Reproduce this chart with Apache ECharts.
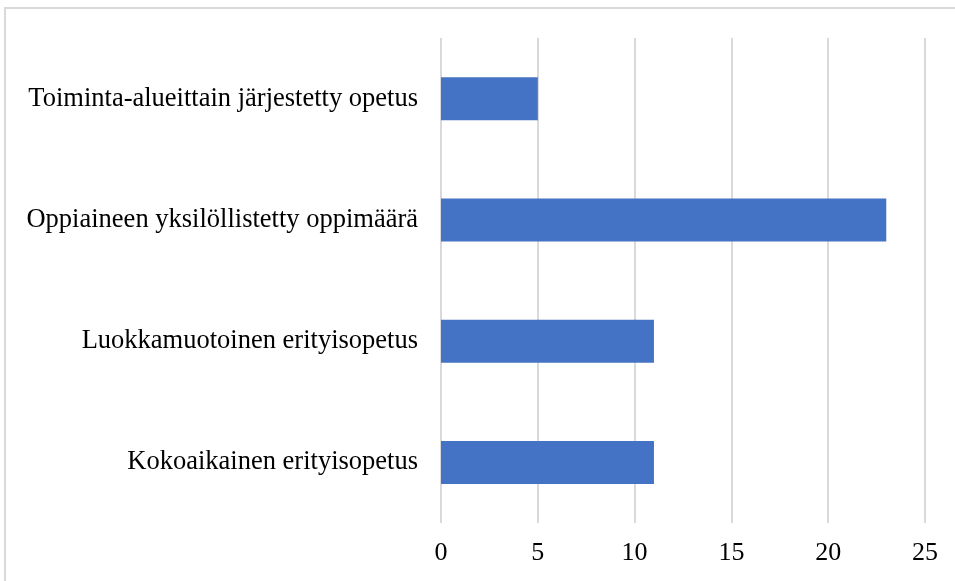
<!DOCTYPE html>
<html>
<head>
<meta charset="utf-8">
<script src="https://cdn.jsdelivr.net/npm/echarts@6/dist/echarts.min.js"></script>
<style>
  html, body { margin: 0; padding: 0; background: #fff; }
  #main { width: 955px; height: 581px; }
</style>
</head>
<body>
<div id="main"></div>
<script>
  // categories listed bottom to top
  const categories = [
    'Kokoaikainen erityisopetus',
    'Luokkamuotoinen erityisopetus',
    'Oppiaineen yksilöllistetty oppimäärä',
    'Toiminta-alueittain järjestetty opetus'
  ];
  const values = [11, 11, 23, 5];
  const xTicks = { min: 0, max: 25, interval: 5 };

  const chart = echarts.init(document.getElementById('main'));
  const font = '"Liberation Serif", "Times New Roman", serif';

  chart.setOption({
    animation: false,
    graphic: [{
      type: 'rect',
      shape: { x: 5, y: 8, width: 1000, height: 1000 },
      style: { fill: 'none', stroke: '#d9d9d9', lineWidth: 2 },
      silent: true
    }],
    grid: { left: 441, right: 30, top: 38, bottom: 58 },
    xAxis: {
      type: 'value',
      min: xTicks.min,
      max: xTicks.max,
      interval: xTicks.interval,
      axisLine: { show: false },
      axisTick: { show: false },
      axisLabel: { color: '#000', fontFamily: font, fontSize: 26, margin: 17 },
      splitLine: { lineStyle: { color: '#d9d9d9', width: 2 } }
    },
    yAxis: {
      type: 'category',
      data: categories,
      axisLine: { show: false },
      axisTick: { show: false },
      axisLabel: { color: '#000', fontFamily: font, fontSize: 26.5, margin: 23 }
    },
    series: [{
      type: 'bar',
      data: values,
      barWidth: 43,
      itemStyle: { color: '#4472C4' }
    }]
  });
</script>
</body>
</html>
